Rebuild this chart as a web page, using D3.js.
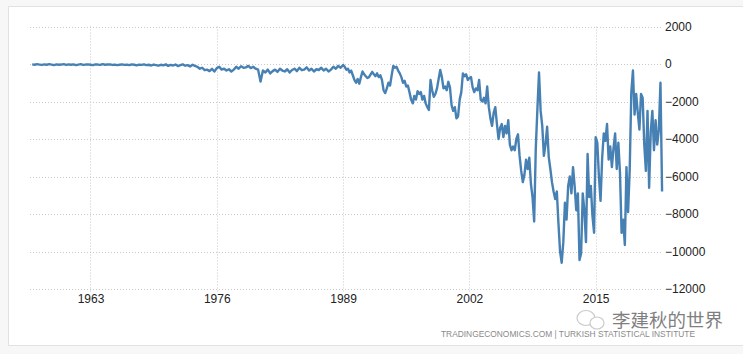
<!DOCTYPE html>
<html>
<head>
<meta charset="utf-8">
<script src="https://cdn.jsdelivr.net/npm/d3@7"></script>
<style>
  body { margin: 0; background: #fafafa; }
  svg { display: block; }
</style>
</head>
<body>
<div id="chart"></div>
<script>
// Turkey balance of trade (USD million)
// 1957 Q1 .. 1988 Q4, one value per quarter
const earlyStart = 1957;
const earlyValues = [
  -20, -40, -10, -30, -50, -20, -40, -10, -30, -60, -20, -40, -30, -10, -50, -20,
  -40, -20, -60, -30, -10, -50, -30, -20, -40, -60, -20, -30, -50, -10, -40, -30,
  -20, -50, -30, -60, -40, -20, -50, -30, -60, -20, -40, -70, -30, -50, -20, -60,
  -40, -80, -30, -60, -90, -40, -70, -20, -100, -50, -80, -30, -110, -60, -20, -90,
  -60, -130, -40, -100,
  -150, -250, -200, -330,
  -300, -380, -260, -400,
  -220, -150, -300, -250,
  -350, -280, -400, -300,
  -150, -250, -120, -200,
  -180, -100, -220, -150,
  -250, -300, -940, -350,
  -450, -300, -500, -380,
  -300, -420, -250, -350,
  -400, -280, -450, -320,
  -250, -380, -200, -330,
  -300, -180, -350, -250,
  -400, -280, -320, -200,
  -350, -250, -400, -300,
  -150, -250, -100, -200
];
// 1989 Jan .. 2021 Nov, one value every two months
const lateStart = 1989;
const lateValues = [
  -50, -150, -300, -250, -450, -350, -600, -850, -1000, -800,
  -1050, -700, -400, -550, -650, -750, -700, -550, -420, -550,
  -650, -500, -700, -600, -850, -1400, -1550, -1300, -1000, -1150,
  -600, -100, -200, -150, -350, -500, -700, -1000, -900, -1200,
  -1150, -1500, -1900, -2100, -1700, -1900, -1450, -1600, -1500, -1900,
  -1700, -2100, -2300, -2450, -850, -1400, -1750, -1600, -1300, -800,
  -320, -700, -1300, -1200, -1400, -950, -1250, -2200, -2500, -2300,
  -2900, -2800, -1900, -1500, -500, -650, -550, -850, -750, -700,
  -1250, -1500, -1300, -1400, -850, -1900, -2000, -1800, -2100, -1200,
  -2300, -2900, -3300, -2600, -2300, -3200, -4000, -3400, -3200, -3900,
  -3300, -3700, -3000, -4300, -4600, -4400, -4600, -4000, -3750, -4900,
  -5700, -6300, -5900, -5100, -5600, -5000, -6400, -7100, -8400, -4500,
  -2400, -450, -2500, -3300, -4900, -4300, -3350, -4950, -5600, -6300,
  -6800, -7200, -6800, -8500, -10000, -10600, -9500, -7400, -8300, -6500,
  -6000, -6900, -5500, -6500, -7800, -6900, -10450, -10100, -6900, -7800,
  -9500, -4800, -7100, -6500, -8100, -9000, -3900, -4200, -6000, -7300,
  -5000, -3700, -4100, -3200, -5100, -4400, -5500, -4500, -3700, -5600,
  -4200, -5800, -9000, -8300, -9650, -5500, -7900, -5650, -1500, -350,
  -2700, -1600, -2600, -3500, -1600, -1800, -4300, -5700, -2500, -6600,
  -3600, -2500, -4600, -3000, -4300, -3500, -1000, -6800
];
const yTicks = [2000, 0, -2000, -4000, -6000, -8000, -10000, -12000];
const xTicks = [1963, 1976, 1989, 2002, 2015];

const W = 743, H = 354;

const data = earlyValues.map((v, i) => ({ t: earlyStart + i / 4, v: v }))
  .concat(lateValues.map((v, i) => ({ t: lateStart + i / 6, v: v })));

const svg = d3.select("#chart").append("svg")
  .attr("width", W)
  .attr("height", H);

// page frame
svg.append("rect").attr("width", W).attr("height", H).attr("fill", "#f7f7f7");
svg.append("rect")
  .attr("x", 8.5).attr("y", 6.5)
  .attr("width", W).attr("height", 339)
  .attr("fill", "#ffffff")
  .attr("stroke", "#e2e2e2");

const x = d3.scaleLinear().domain([1957, 2022]).range([32.2, 663.7]);
const y = d3.scaleLinear().domain([-12000, 2000]).range([289, 26.5]);

// grid
svg.append("g")
  .selectAll("line")
  .data(yTicks)
  .join("line")
  .attr("x1", 30).attr("x2", 661)
  .attr("y1", d => Math.round(y(d)) + 0.5)
  .attr("y2", d => Math.round(y(d)) + 0.5)
  .attr("stroke", "#c8c8c8")
  .attr("stroke-dasharray", "1,2");

svg.append("g")
  .selectAll("line")
  .data(xTicks)
  .join("line")
  .attr("x1", d => Math.round(x(d)) + 0.5)
  .attr("x2", d => Math.round(x(d)) + 0.5)
  .attr("y1", y(2000)).attr("y2", 292)
  .attr("stroke", "#c8c8c8")
  .attr("stroke-dasharray", "1,2");

// axes
const yAxis = svg.append("g")
  .attr("transform", "translate(663,0)")
  .call(d3.axisRight(y).tickValues(yTicks).tickSize(0).tickPadding(2).tickFormat(d3.format("d")));
yAxis.select(".domain").remove();

const xAxis = svg.append("g")
  .attr("transform", "translate(0,290)")
  .call(d3.axisBottom(x).tickValues(xTicks).tickSize(0).tickPadding(4).tickFormat(d3.format("d")));
xAxis.select(".domain").remove();

svg.selectAll(".tick text")
  .attr("font-family", "'Liberation Sans', Arial, sans-serif")
  .attr("font-size", "12px")
  .attr("fill", "#222");

// the series
const line = d3.line()
  .x(d => x(d.t))
  .y(d => y(d.v));

svg.append("path")
  .datum(data)
  .attr("d", line)
  .attr("fill", "none")
  .attr("stroke", "#4781b3")
  .attr("stroke-width", 2.4)
  .attr("stroke-linejoin", "round");

// source line
svg.append("text")
  .attr("x", 441).attr("y", 337)
  .attr("textLength", 254)
  .attr("lengthAdjust", "spacingAndGlyphs")
  .attr("font-family", "'Liberation Sans', Arial, sans-serif")
  .attr("font-size", "9px")
  .attr("fill", "#8a8a8a")
  .text("TRADINGECONOMICS.COM  |  TURKISH STATISTICAL INSTITUTE");

// watermark
const wm = svg.append("g").attr("opacity", 0.75);
wm.append("ellipse").attr("cx", 586).attr("cy", 318).attr("rx", 9).attr("ry", 7.5)
  .attr("fill", "none").attr("stroke", "#bbb").attr("stroke-width", 1.2);
wm.append("ellipse").attr("cx", 597).attr("cy", 323).attr("rx", 7).attr("ry", 6)
  .attr("fill", "#fff").attr("stroke", "#bbb").attr("stroke-width", 1.2);
wm.append("text")
  .attr("x", 612).attr("y", 327)
  .attr("font-family", "'Noto Sans CJK SC', sans-serif")
  .attr("font-size", "18.5px")
  .attr("fill", "#555")
  .text("李建秋的世界");
</script>
</body>
</html>
